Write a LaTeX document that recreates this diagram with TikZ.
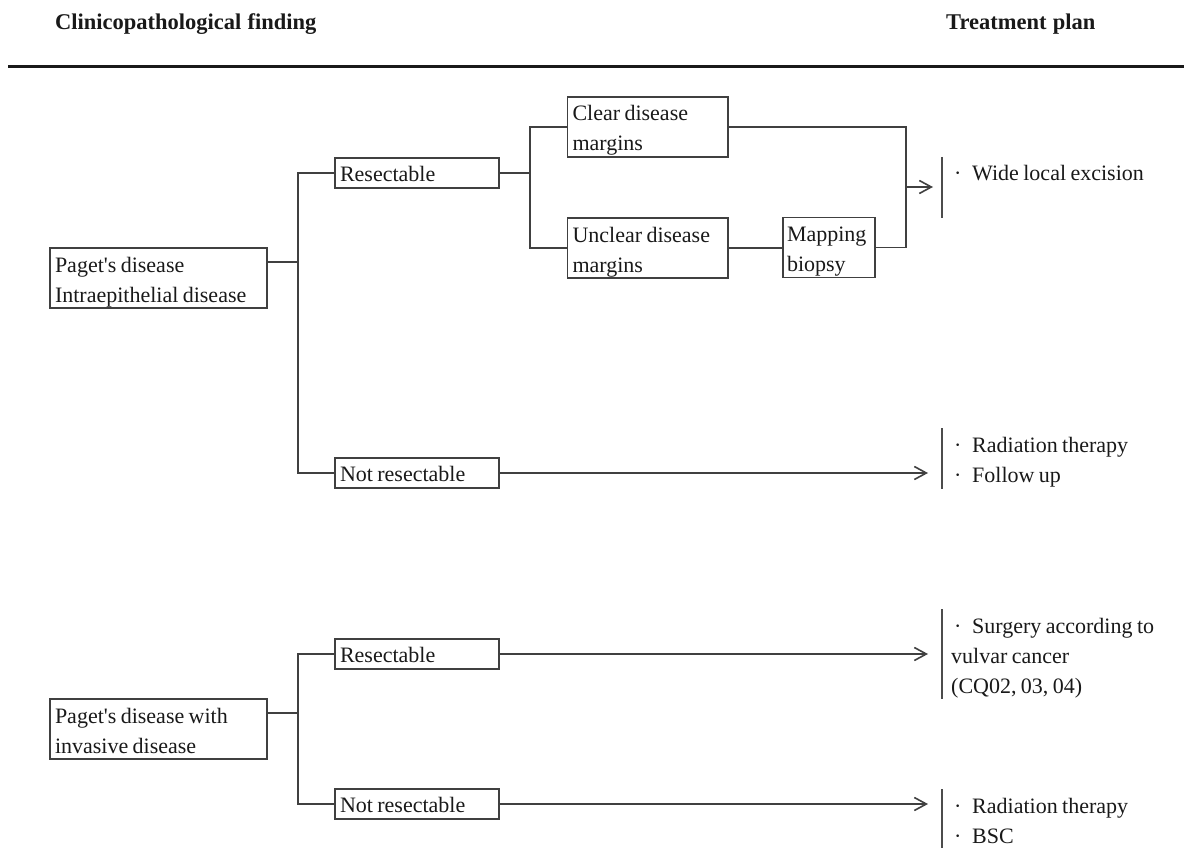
\documentclass[tikz,border=0pt]{standalone}
\usepackage{fontspec}
\setmainfont{Liberation Serif}[WordSpace=0.8]
\newfontfamily\titlefont{Liberation Serif}[WordSpace=1.1]
\usetikzlibrary{arrows.meta}
\newcommand{\bul}{\makebox[21pt][l]{\hspace{3pt}\textperiodcentered}}
\begin{document}
\begin{tikzpicture}[x=1pt,y=-1pt,
  txt/.style={font=\fontsize{22}{30}\selectfont, text=black!90},
  box/.style={txt, draw=black!75, line width=1.6pt, inner xsep=5pt, inner ysep=0pt,
    outer sep=0pt, anchor=north west, align=flush left},
  bone/.style={box, text width=#1, text height=23.5pt, text depth=6.5pt},
  btwo/.style={box, text width=#1, text height=24pt, text depth=36pt},
  conn/.style={draw=black!75, line width=1.6pt},
  arr/.style={conn, -{Straight Barb[length=12pt,width=13pt]}},
  bar/.style={draw=black!70, line width=1.8pt},
  tx/.style={txt, inner sep=0pt, anchor=base west, text width=230pt, align=flush left},
  title/.style={inner sep=0pt, anchor=base west, text=black!90, font=\titlefont\fontsize{22.5}{30}\selectfont\bfseries}
]
\useasboundingbox (0,0) rectangle (1184,848);

% header
\node[title] (h1) at (55,30) {Clinicopathological finding};
\node[title] (h2) at (946,30) {Treatment plan};
\draw[line width=3pt, black!90] (8,66.7) -- (1184,66.7);

% boxes
\node[btwo=207pt] (pd1) at (50,248) {Paget\textquotesingle s disease\\Intraepithelial disease};
\node[bone=154pt] (res1) at (335,158) {Resectable};
\node[bone=154pt] (nr1) at (335,458) {Not resectable};
\node[btwo=150.5pt] (clear) at (567.5,97) {Clear disease\\margins};
\node[btwo=150.5pt] (unclear) at (567.5,218) {Unclear disease\\margins};
\node[btwo=84pt, inner xsep=4pt] (map) at (783,217.5) {Mapping\\biopsy};

\node[btwo=207pt] (pd2) at (50,699) {Paget\textquotesingle s disease with\\invasive disease};
\node[bone=154pt] (res2) at (335,639) {Resectable};
\node[bone=154pt] (nr2) at (335,789) {Not resectable};

% treatment texts
\node[tx] (t1) at (951,181) {\bul Wide local excision};
\node[tx] (t2) at (951,452) {\bul Radiation therapy\\\bul Follow up};
\node[tx] (t3) at (951,633) {\bul Surgery according to\\vulvar cancer\\(CQ02, 03, 04)};
\node[tx] (t4) at (951,813) {\bul Radiation therapy\\\bul BSC};

% bars
\draw[bar] (942,157) -- (942,218);
\draw[bar] (942,428) -- (942,489);
\draw[bar] (942,609) -- (942,699);
\draw[bar] (942,789) -- (942,850);

% junction coordinates
\coordinate (s1) at (298,262);
\coordinate (s2) at (530,173);
\coordinate (s3) at (906,187);
\coordinate (s4) at (298,713);
\coordinate (e1) at (933,187);
\coordinate (e2) at (928,472);

% connectors, upper group
\draw[conn] (pd1.east |- s1) -- (s1);
\draw[conn] (res1.west) -| (s1);
\draw[conn] (nr1.west) -| (s1);
\draw[conn] (res1.east) -- (s2);
\draw[conn] (clear.west) -| (s2);
\draw[conn] (unclear.west) -| (s2);
\draw[conn] (unclear.east) -- (unclear.east -| map.west);
\draw[conn] (clear.east) -| (s3);
\draw[conn] (map.east) -| (s3);
\draw[arr] (s3) -- (e1);
\draw[arr] (nr1.east) -- (nr1.east -| e2);

% connectors, lower group
\draw[conn] (pd2.east |- s4) -- (s4);
\draw[conn] (res2.west) -| (s4);
\draw[conn] (nr2.west) -| (s4);
\draw[arr] (res2.east) -- (res2.east -| e2);
\draw[arr] (nr2.east) -- (nr2.east -| e2);
\end{tikzpicture}
\end{document}
